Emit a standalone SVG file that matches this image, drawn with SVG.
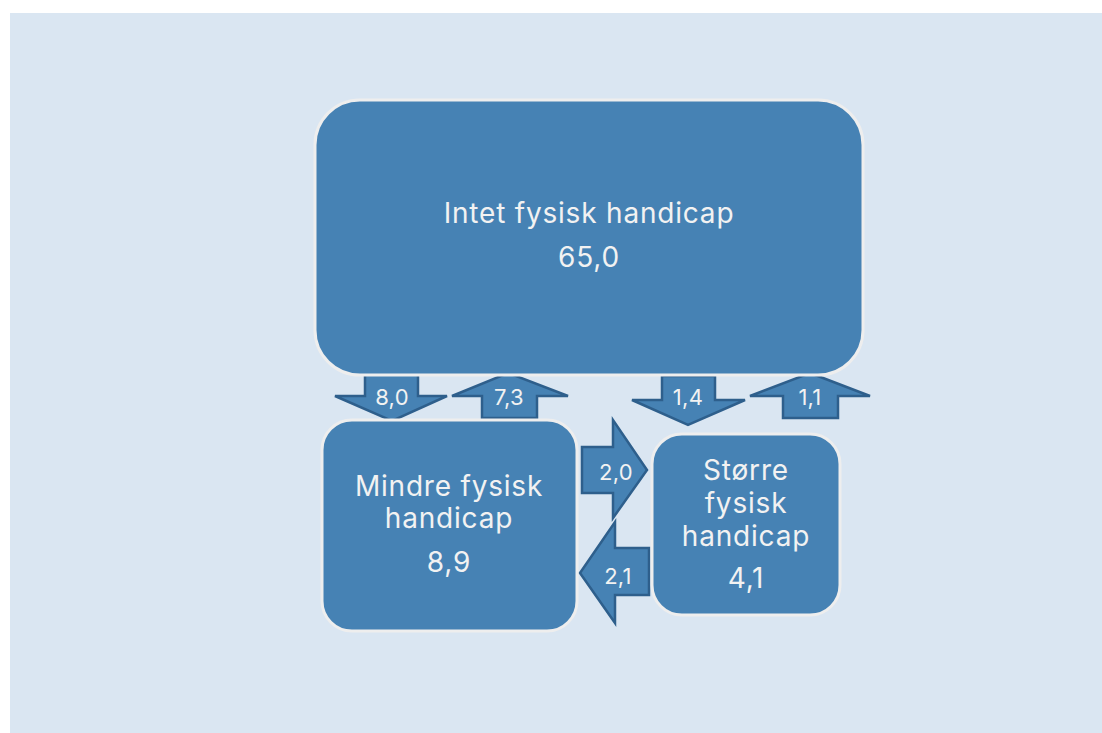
<svg xmlns="http://www.w3.org/2000/svg" width="1102" height="733" viewBox="0 0 1102 733">
<style>
.box{fill:#4682b4;stroke:#eeeeee;stroke-width:3}
.arr{fill:#4682b4;stroke:#2e5f8c;stroke-width:2.5;stroke-linejoin:miter}
.t{font-family:Inter,"Noto Sans",sans-serif;fill:#f2f2f2;text-anchor:middle}
.big{font-size:28px;letter-spacing:0.8px}
.sm{font-size:22px;letter-spacing:0.3px}
</style>
<rect x="0" y="0" width="1102" height="733" fill="#ffffff"/>
<rect x="10" y="13" width="1092" height="720" fill="#dae6f2"/>
<g id="connectors">
<g id="a80"><polygon class="arr" points="365,373 418,373 418,396 447,396 392,421 335,396 365,396"/><text class="t sm" x="392" y="405">8,0</text></g>
<g id="a73"><polygon class="arr" points="508,373 568,396 537,396 537,418 482,418 482,396 452,396"/><text class="t sm" x="509" y="405">7,3</text></g>
<g id="a14"><polygon class="arr" points="662,376 715,376 715,400 745,400 688,425 632,400 662,400"/><text class="t sm" x="688" y="405">1,4</text></g>
<g id="a11"><polygon class="arr" points="810,373 870,396 838,396 838,418 783,418 783,396 750,396"/><text class="t sm" x="810" y="405">1,1</text></g>
<g id="a20"><polygon class="arr" points="582,447 613,447 613,420 647,470 613,518 613,493 582,493"/><text class="t sm" x="616" y="480">2,0</text></g>
<g id="a21"><polygon class="arr" points="580,573 615,522 615,548 649,548 649,595 615,595 615,623"/><text class="t sm" x="618" y="584">2,1</text></g>
</g>
<g id="intet"><rect class="box" x="315" y="100" width="548" height="275" rx="45"/><text class="t big" x="589" y="223">Intet fysisk handicap</text><text class="t big" x="589" y="267">65,0</text></g>
<g id="mindre"><rect class="box" x="322" y="420" width="255" height="211" rx="30"/><text class="t big" x="449" y="496">Mindre fysisk</text><text class="t big" x="449" y="528">handicap</text><text class="t big" x="449" y="572">8,9</text></g>
<g id="storre"><rect class="box" x="652" y="434" width="188" height="181" rx="30"/><text class="t big" x="746" y="480">Større</text><text class="t big" x="746" y="513">fysisk</text><text class="t big" x="746" y="546">handicap</text><text class="t big" x="746" y="588">4,1</text></g>
</svg>
